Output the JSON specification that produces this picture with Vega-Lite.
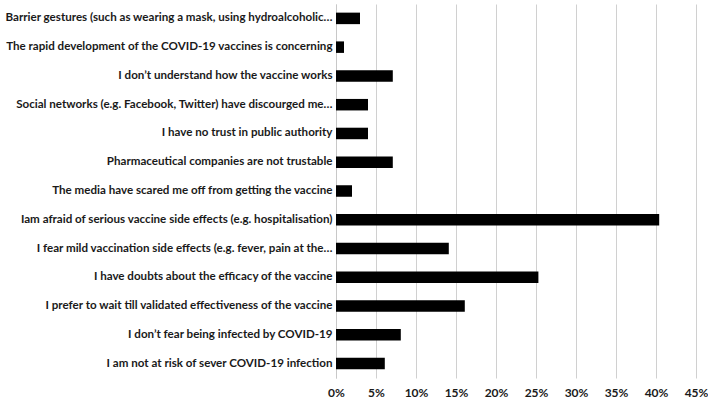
{
  "$schema": "https://vega.github.io/schema/vega-lite/v6.json",
  "width": 360,
  "height": 374,
  "autosize": {"type": "none"},
  "padding": {"left": 336, "top": 4, "right": 12, "bottom": 22},
  "background": "white",
  "config": {"view": {"stroke": null}},
  "data": {
    "values": [
      {"reason": "Barrier gestures (such as wearing a mask, using hydroalcoholic…", "pct": 0.030},
      {"reason": "The rapid development of the COVID-19 vaccines is concerning", "pct": 0.010},
      {"reason": "I don’t understand how the vaccine works", "pct": 0.071},
      {"reason": "Social networks (e.g. Facebook, Twitter) have discourged me…", "pct": 0.040},
      {"reason": "I have no trust in public authority", "pct": 0.040},
      {"reason": "Pharmaceutical companies are not trustable", "pct": 0.071},
      {"reason": "The media  have scared me off from getting the vaccine", "pct": 0.020},
      {"reason": "Iam afraid of serious vaccine side effects (e.g. hospitalisation)", "pct": 0.404},
      {"reason": "I fear mild vaccination side effects (e.g. fever, pain at the…", "pct": 0.141},
      {"reason": "I have doubts about the efficacy of the vaccine", "pct": 0.253},
      {"reason": "I prefer to wait till validated effectiveness of the vaccine", "pct": 0.161},
      {"reason": "I don’t fear being infected by COVID-19", "pct": 0.081},
      {"reason": "I am not at risk of sever COVID-19 infection", "pct": 0.061}
    ]
  },
  "mark": {"type": "bar", "color": "#000000"},
  "encoding": {
    "y": {
      "field": "reason",
      "type": "nominal",
      "sort": null,
      "title": null,
      "scale": {"paddingInner": 0.6, "paddingOuter": 0.3},
      "axis": {
        "ticks": false,
        "domain": true,
        "domainColor": "#c8c8c8",
        "labelFont": "Lato",
        "labelFontWeight": "bold",
        "labelFontSize": 11.6,
        "labelColor": "#1a1a1a",
        "labelLimit": 400,
        "labelPadding": 4,
        "encode": {
          "labels": {
            "update": {
              "dx": {"signal": "test(/\u2026$/, datum.label) ? 0 : -10"}
            }
          }
        }
      }
    },
    "x": {
      "field": "pct",
      "type": "quantitative",
      "title": null,
      "scale": {"domain": [0, 0.45], "nice": false},
      "axis": {
        "values": [0, 0.05, 0.1, 0.15, 0.2, 0.25, 0.3, 0.35, 0.4, 0.45],
        "format": ".0%",
        "domain": false,
        "ticks": false,
        "grid": true,
        "gridColor": "#d0d0d0",
        "labelFlush": false,
        "labelFont": "Lato",
        "labelFontWeight": "bold",
        "labelFontSize": 12,
        "labelColor": "#1a1a1a",
        "labelPadding": 9
      }
    }
  }
}
